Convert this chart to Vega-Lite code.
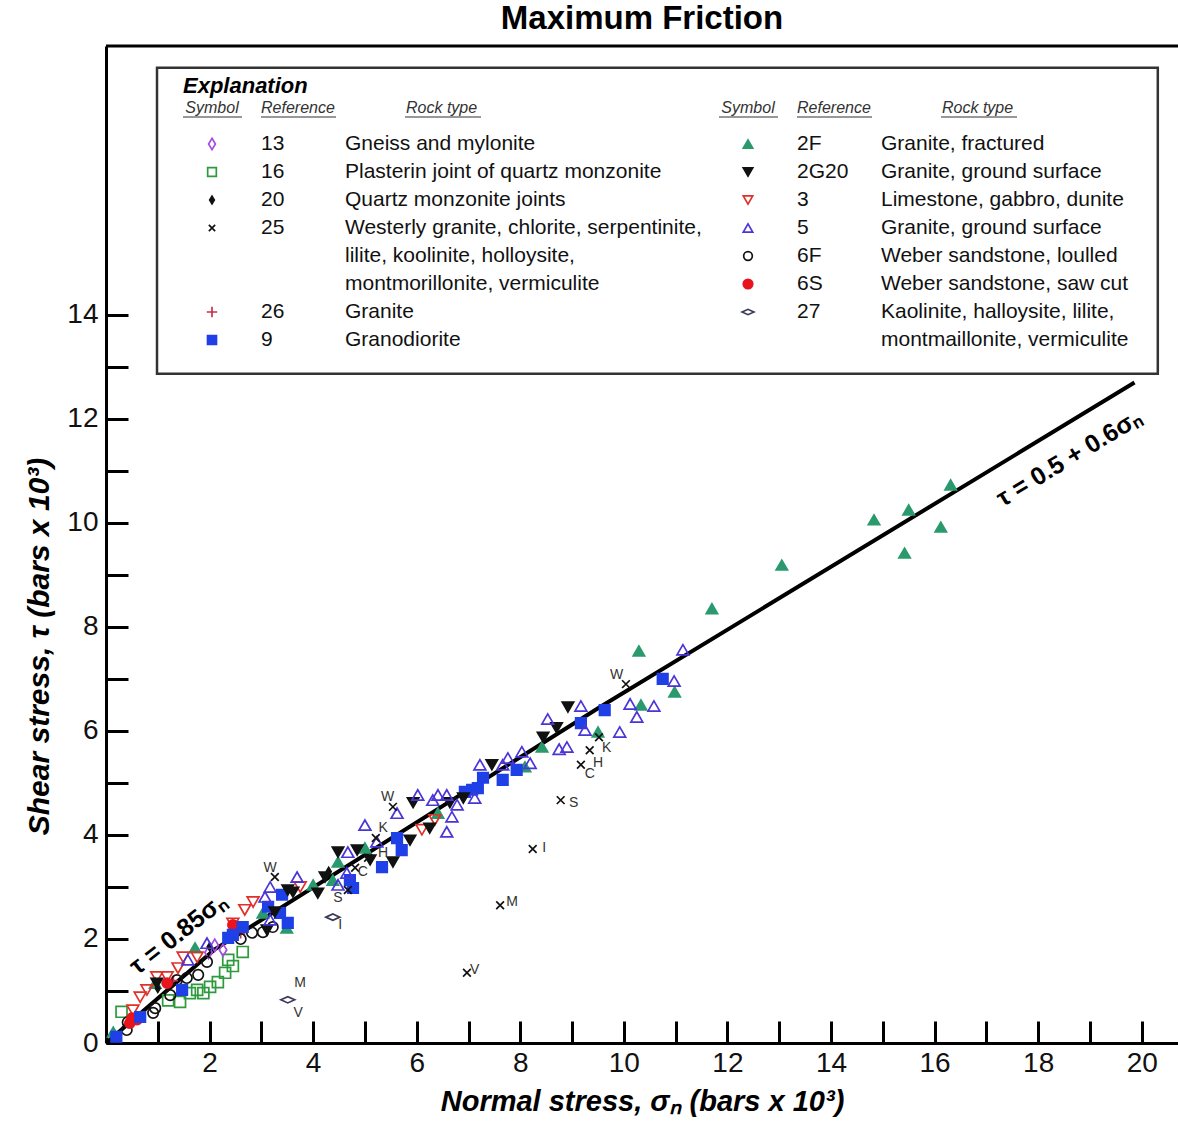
{
  "$schema": "https://vega.github.io/schema/vega-lite/v6.json",
  "width": 1072,
  "height": 997,
  "autosize": "none",
  "padding": {"left": 106, "top": 46, "right": 0, "bottom": 83},
  "background": "white",
  "config": {"view": {"stroke": null}, "font": "Liberation Sans"},
  "title": {"text": "Maximum Friction", "fontSize": 33, "fontWeight": "bold", "anchor": "middle", "offset": 9, "color": "black"},
  "datasets": {
    "pts": [
      {"s":16.31,"t":10.73,"ref":"2F"},{"s":15.5,"t":10.25,"ref":"2F"},{"s":14.83,"t":10.06,"ref":"2F"},{"s":16.12,"t":9.92,"ref":"2F"},{"s":15.42,"t":9.42,"ref":"2F"},{"s":13.05,"t":9.19,"ref":"2F"},{"s":11.7,"t":8.35,"ref":"2F"},{"s":10.29,"t":7.54,"ref":"2F"},{"s":10.98,"t":6.75,"ref":"2F"},{"s":10.33,"t":6.5,"ref":"2F"},{"s":9.5,"t":5.98,"ref":"2F"},{"s":8.42,"t":5.69,"ref":"2F"},{"s":8.09,"t":5.31,"ref":"2F"},{"s":6.41,"t":4.42,"ref":"2F"},{"s":5.0,"t":3.75,"ref":"2F"},{"s":4.48,"t":3.48,"ref":"2F"},{"s":4.0,"t":3.04,"ref":"2F"},{"s":4.38,"t":3.13,"ref":"2F"},{"s":3.03,"t":2.5,"ref":"2F"},{"s":3.49,"t":2.21,"ref":"2F"},{"s":1.72,"t":1.83,"ref":"2F"},{"s":0.95,"t":1.15,"ref":"2F"},{"s":0.14,"t":0.21,"ref":"2F"},
      {"s":2.64,"t":1.75,"ref":"16"},{"s":2.36,"t":1.6,"ref":"16"},{"s":2.3,"t":1.35,"ref":"16"},{"s":2.16,"t":1.17,"ref":"16"},{"s":2.01,"t":1.08,"ref":"16"},{"s":1.76,"t":1.02,"ref":"16"},{"s":1.88,"t":0.96,"ref":"16"},{"s":1.62,"t":0.96,"ref":"16"},{"s":1.43,"t":0.79,"ref":"16"},{"s":1.2,"t":0.82,"ref":"16"},{"s":0.3,"t":0.6,"ref":"16"},{"s":2.45,"t":1.48,"ref":"16"},
      {"s":2.1,"t":1.88,"ref":"13"},{"s":2.26,"t":1.79,"ref":"13"},{"s":1.98,"t":1.74,"ref":"13"},
      {"s":1.0,"t":1.05,"ref":"20"},{"s":2.0,"t":1.85,"ref":"20"},{"s":4.3,"t":3.3,"ref":"20"},
      {"s":1.3,"t":1.2,"ref":"26"},{"s":2.6,"t":2.1,"ref":"26"},
      {"s":3.22,"t":2.23,"ref":"6F"},{"s":3.03,"t":2.13,"ref":"6F"},{"s":2.82,"t":2.12,"ref":"6F"},{"s":2.6,"t":2.0,"ref":"6F"},{"s":1.95,"t":1.56,"ref":"6F"},{"s":1.78,"t":1.31,"ref":"6F"},{"s":1.56,"t":1.25,"ref":"6F"},{"s":1.37,"t":1.21,"ref":"6F"},{"s":1.24,"t":0.92,"ref":"6F"},{"s":0.95,"t":0.67,"ref":"6F"},{"s":0.91,"t":0.58,"ref":"6F"},{"s":0.42,"t":0.4,"ref":"6F"},{"s":0.4,"t":0.25,"ref":"6F"},
      {"s":6.1,"t":4.1,"ref":"3"},{"s":6.35,"t":4.29,"ref":"3"},{"s":3.75,"t":3.0,"ref":"3"},{"s":2.84,"t":2.71,"ref":"3"},{"s":2.68,"t":2.56,"ref":"3"},{"s":2.45,"t":2.3,"ref":"3"},{"s":1.76,"t":1.65,"ref":"3"},{"s":1.49,"t":1.65,"ref":"3"},{"s":1.18,"t":1.27,"ref":"3"},{"s":0.98,"t":1.27,"ref":"3"},{"s":0.79,"t":1.02,"ref":"3"},{"s":0.66,"t":0.88,"ref":"3"},{"s":0.52,"t":0.63,"ref":"3"},{"s":1.39,"t":1.44,"ref":"3"},
      {"s":2.45,"t":2.27,"ref":"6S"},{"s":1.18,"t":1.15,"ref":"6S"},{"s":0.5,"t":0.48,"ref":"6S"},{"s":0.46,"t":0.38,"ref":"6S"},{"s":0.6,"t":0.45,"ref":"6S"},
      {"s":10.75,"t":7.0,"ref":"9"},{"s":9.63,"t":6.4,"ref":"9"},{"s":9.17,"t":6.15,"ref":"9"},{"s":7.93,"t":5.25,"ref":"9"},{"s":7.66,"t":5.06,"ref":"9"},{"s":7.28,"t":5.1,"ref":"9"},{"s":7.18,"t":4.9,"ref":"9"},{"s":7.07,"t":4.87,"ref":"9"},{"s":6.93,"t":4.83,"ref":"9"},{"s":5.62,"t":3.94,"ref":"9"},{"s":5.71,"t":3.71,"ref":"9"},{"s":5.33,"t":3.38,"ref":"9"},{"s":4.71,"t":3.13,"ref":"9"},{"s":4.77,"t":2.98,"ref":"9"},{"s":3.4,"t":2.85,"ref":"9"},{"s":3.51,"t":2.31,"ref":"9"},{"s":3.36,"t":2.5,"ref":"9"},{"s":3.13,"t":2.62,"ref":"9"},{"s":2.64,"t":2.23,"ref":"9"},{"s":2.36,"t":2.02,"ref":"9"},{"s":2.45,"t":2.08,"ref":"9"},{"s":1.47,"t":1.02,"ref":"9"},{"s":0.66,"t":0.5,"ref":"9"},{"s":0.2,"t":0.12,"ref":"9"},
      {"s":8.92,"t":6.46,"ref":"2G20"},{"s":8.7,"t":6.06,"ref":"2G20"},{"s":8.44,"t":5.88,"ref":"2G20"},{"s":7.45,"t":5.35,"ref":"2G20"},{"s":6.9,"t":4.71,"ref":"2G20"},{"s":6.64,"t":4.62,"ref":"2G20"},{"s":5.93,"t":4.62,"ref":"2G20"},{"s":6.25,"t":4.13,"ref":"2G20"},{"s":5.87,"t":3.9,"ref":"2G20"},{"s":5.54,"t":3.48,"ref":"2G20"},{"s":5.1,"t":3.52,"ref":"2G20"},{"s":4.85,"t":3.71,"ref":"2G20"},{"s":4.48,"t":3.67,"ref":"2G20"},{"s":4.23,"t":3.19,"ref":"2G20"},{"s":4.09,"t":2.88,"ref":"2G20"},{"s":3.51,"t":2.94,"ref":"2G20"},{"s":3.61,"t":2.9,"ref":"2G20"},{"s":3.26,"t":2.52,"ref":"2G20"},{"s":3.11,"t":2.17,"ref":"2G20"},{"s":0.98,"t":1.15,"ref":"2G20"},
      {"s":11.14,"t":7.56,"ref":"5"},{"s":10.97,"t":6.96,"ref":"5"},{"s":10.58,"t":6.48,"ref":"5"},{"s":10.12,"t":6.52,"ref":"5"},{"s":10.25,"t":6.27,"ref":"5"},{"s":9.92,"t":5.98,"ref":"5"},{"s":9.17,"t":6.48,"ref":"5"},{"s":9.25,"t":6.02,"ref":"5"},{"s":8.53,"t":6.23,"ref":"5"},{"s":8.9,"t":5.69,"ref":"5"},{"s":8.75,"t":5.65,"ref":"5"},{"s":8.03,"t":5.6,"ref":"5"},{"s":7.76,"t":5.48,"ref":"5"},{"s":8.19,"t":5.38,"ref":"5"},{"s":7.66,"t":5.35,"ref":"5"},{"s":7.22,"t":5.35,"ref":"5"},{"s":7.12,"t":4.71,"ref":"5"},{"s":6.78,"t":4.58,"ref":"5"},{"s":6.68,"t":4.35,"ref":"5"},{"s":6.58,"t":4.06,"ref":"5"},{"s":6.58,"t":4.77,"ref":"5"},{"s":6.41,"t":4.77,"ref":"5"},{"s":6.31,"t":4.67,"ref":"5"},{"s":6.02,"t":4.77,"ref":"5"},{"s":5.62,"t":4.42,"ref":"5"},{"s":5.23,"t":3.87,"ref":"5"},{"s":5.0,"t":4.19,"ref":"5"},{"s":4.67,"t":3.67,"ref":"5"},{"s":4.65,"t":3.27,"ref":"5"},{"s":4.48,"t":3.04,"ref":"5"},{"s":3.69,"t":3.19,"ref":"5"},{"s":3.17,"t":3.0,"ref":"5"},{"s":3.07,"t":2.81,"ref":"5"},{"s":3.17,"t":2.37,"ref":"5"},{"s":1.95,"t":1.92,"ref":"5"},{"s":1.58,"t":1.6,"ref":"5"},
      {"s":10.04,"t":6.9,"ref":"25"},{"s":9.52,"t":5.88,"ref":"25"},{"s":9.34,"t":5.63,"ref":"25"},{"s":9.17,"t":5.35,"ref":"25"},{"s":8.78,"t":4.67,"ref":"25"},{"s":8.24,"t":3.73,"ref":"25"},{"s":7.61,"t":2.65,"ref":"25"},{"s":6.97,"t":1.35,"ref":"25"},{"s":5.54,"t":4.54,"ref":"25"},{"s":5.21,"t":3.94,"ref":"25"},{"s":5.06,"t":3.56,"ref":"25"},{"s":4.81,"t":3.37,"ref":"25"},{"s":4.67,"t":2.94,"ref":"25"},{"s":3.26,"t":3.19,"ref":"25"},
      {"s":3.51,"t":0.83,"ref":"27"},{"s":4.38,"t":2.42,"ref":"27"}
    ],
    "lbl": [
      {"s":9.86,"t":7.08,"txt":"W"},{"s":9.67,"t":5.67,"txt":"K"},{"s":9.5,"t":5.38,"txt":"H"},{"s":9.34,"t":5.17,"txt":"C"},{"s":9.03,"t":4.62,"txt":"S"},{"s":8.46,"t":3.75,"txt":"I"},{"s":7.84,"t":2.71,"txt":"M"},{"s":7.12,"t":1.4,"txt":"V"},
      {"s":5.44,"t":4.73,"txt":"W"},{"s":5.35,"t":4.13,"txt":"K"},{"s":5.35,"t":3.65,"txt":"H"},{"s":4.96,"t":3.29,"txt":"C"},{"s":4.48,"t":2.79,"txt":"S"},{"s":3.17,"t":3.37,"txt":"W"},{"s":4.52,"t":2.27,"txt":"I"},{"s":3.75,"t":1.15,"txt":"M"},{"s":3.71,"t":0.58,"txt":"V"}
    ],
    "line": [
      {"s":0.0,"t":0.0},{"s":2.1,"t":1.8},{"s":9.54,"t":6.46},{"s":19.86,"t":12.7}
    ],
    "leg": [
      {"col":1,"row":1,"ref":"13","rock":"Gneiss and mylonite"},
      {"col":1,"row":2,"ref":"16","rock":"Plasterin joint of quartz monzonite"},
      {"col":1,"row":3,"ref":"20","rock":"Quartz monzonite joints"},
      {"col":1,"row":4,"ref":"25","rock":"Westerly granite, chlorite, serpentinite,"},
      {"col":1,"row":5,"ref":null,"rock":"lilite, koolinite, holloysite,"},
      {"col":1,"row":6,"ref":null,"rock":"montmorillonite, vermiculite"},
      {"col":1,"row":7,"ref":"26","rock":"Granite"},
      {"col":1,"row":8,"ref":"9","rock":"Granodiorite"},
      {"col":2,"row":1,"ref":"2F","rock":"Granite, fractured"},
      {"col":2,"row":2,"ref":"2G20","rock":"Granite, ground surface"},
      {"col":2,"row":3,"ref":"3","rock":"Limestone, gabbro, dunite"},
      {"col":2,"row":4,"ref":"5","rock":"Granite, ground surface"},
      {"col":2,"row":5,"ref":"6F","rock":"Weber sandstone, loulled"},
      {"col":2,"row":6,"ref":"6S","rock":"Weber sandstone, saw cut"},
      {"col":2,"row":7,"ref":"27","rock":"Kaolinite, halloysite, lilite,"},
      {"col":2,"row":8,"ref":null,"rock":"montmaillonite, vermiculite"}
    ],
    "hdr": [{"col":1},{"col":2}]
  },
  "layer": [
    {
      "layer": [
        {
          "data": {"values": [{}]},
          "mark": {"type": "rect", "fill": "white", "stroke": "#333333", "strokeWidth": 2.5},
          "encoding": {"x": {"datum": 0.985}, "x2": {"datum": 20.31}, "y": {"datum": 18.75}, "y2": {"datum": 12.87}}
        },
        {
          "data": {"values": [{}]},
          "mark": {"type": "rule", "strokeWidth": 3, "color": "black"},
          "encoding": {"y": {"datum": 19.17}}
        },
        {
          "data": {"name": "line"},
          "mark": {"type": "line", "color": "black", "strokeWidth": 4},
          "encoding": {"x": {"field": "s", "type": "quantitative"}, "y": {"field": "t", "type": "quantitative"}}
        },
        {
          "data": {"name": "pts"},
          "mark": {"type": "point", "opacity": 1, "strokeWidth": 1.7},
          "encoding": {
            "x": {
              "field": "s", "type": "quantitative",
              "scale": {"domain": [0, 20.7], "nice": false, "zero": false},
              "axis": {
                "values": [1,2,3,4,5,6,7,8,9,10,11,12,13,14,15,16,17,18,19,20],
                "labelExpr": "datum.value % 2 == 0 ? datum.label : ''",
                "grid": false, "tickSize": -22, "tickWidth": 3, "tickColor": "black",
                "domainWidth": 3, "domainColor": "black",
                "labelFontSize": 28, "labelColor": "#111", "labelPadding": 28, "labelFlush": false,
                "title": "Normal stress, σₙ (bars x 10³)", "titleFontSize": 29, "titleFontWeight": "bold", "titleFontStyle": "italic", "titleColor": "black", "titlePadding": 10
              }
            },
            "y": {
              "field": "t", "type": "quantitative",
              "scale": {"domain": [0, 19.17], "nice": false, "zero": false},
              "axis": {
                "values": [0,1,2,3,4,5,6,7,8,9,10,11,12,13,14],
                "labelExpr": "datum.value % 2 == 0 ? datum.label : ''",
                "grid": false, "tickSize": -22, "tickWidth": 3, "tickColor": "black",
                "domainWidth": 3, "domainColor": "black",
                "labelFontSize": 28, "labelColor": "#111", "labelPadding": 30, "labelFlush": false,
                "title": "Shear stress, τ (bars x 10³)", "titleFontSize": 30, "titleFontWeight": "bold", "titleFontStyle": "italic", "titleColor": "black", "titlePadding": 12, "titleY": 600
              }
            },
            "shape": {"field": "ref", "type": "nominal", "legend": null, "scale": {
              "domain": ["13","16","20","25","26","9","2F","2G20","3","5","6F","6S","27"],
              "range": ["M0,-1L0.6,0L0,1L-0.6,0Z","square","M0,-1L0.6,0L0,1L-0.6,0Z","M-1,-1L1,1M-1,1L1,-1","M-1,0L1,0M0,-1L0,1","square","triangle-up","triangle-down","triangle-down","triangle-up","circle","circle","M-1,0L0,-0.45L1,0L0,0.45Z"]}},
            "fill": {"field": "ref", "type": "nominal", "legend": null, "scale": {
              "domain": ["13","16","20","25","26","9","2F","2G20","3","5","6F","6S","27"],
              "range": ["transparent","transparent","#111111","transparent","transparent","#1f40e6","#2a9a6e","#111111","transparent","transparent","transparent","#e8141e","transparent"]}},
            "stroke": {"field": "ref", "type": "nominal", "legend": null, "scale": {
              "domain": ["13","16","20","25","26","9","2F","2G20","3","5","6F","6S","27"],
              "range": ["#a64ce0","#2e9a3e","#111111","#111111","#c8324a","#1f40e6","#2a9a6e","#111111","#e0302a","#4a35d8","#111111","#e8141e","#3a3a5a"]}},
            "size": {"field": "ref", "type": "nominal", "legend": null, "scale": {"type": "ordinal",
              "domain": ["13","16","20","25","26","9","2F","2G20","3","5","6F","6S","27"],
              "range": [150,120,60,60,90,110,130,130,140,140,110,100,190]}}
          }
        },
        {
          "data": {"name": "lbl"},
          "mark": {"type": "text", "fontSize": 14, "color": "#333333", "align": "center", "baseline": "middle"},
          "encoding": {"x": {"field": "s", "type": "quantitative"}, "y": {"field": "t", "type": "quantitative"}, "text": {"field": "txt"}}
        },
        {
          "data": {"values": [{}]},
          "mark": {"type": "text", "text": "τ = 0.85σₙ", "fontSize": 25, "fontWeight": "bold", "angle": -38, "align": "center", "baseline": "middle", "color": "black"},
          "encoding": {"x": {"datum": 1.39}, "y": {"datum": 2.1}}
        },
        {
          "data": {"values": [{}]},
          "mark": {"type": "text", "text": "τ = 0.5 + 0.6σₙ", "fontSize": 25, "fontWeight": "bold", "angle": -31, "align": "center", "baseline": "middle", "color": "black"},
          "encoding": {"x": {"datum": 18.6}, "y": {"datum": 11.25}}
        }
      ]
    },
    {
      "layer": [
        {
          "data": {"name": "leg"},
          "transform": [{"filter": "datum.ref != null"}],
          "mark": {"type": "point", "opacity": 1, "strokeWidth": 1.7},
          "encoding": {
            "x": {"field": "col", "type": "quantitative", "scale": {"domain": [1, 2], "range": [106, 642]}, "axis": null},
            "y": {"field": "row", "type": "quantitative", "scale": {"domain": [1, 8], "range": [98, 294]}, "axis": null},
            "shape": {"field": "ref", "type": "nominal", "legend": null},
            "fill": {"field": "ref", "type": "nominal", "legend": null},
            "stroke": {"field": "ref", "type": "nominal", "legend": null},
            "size": {"field": "ref", "type": "nominal", "legend": null, "scale": {"type": "ordinal",
              "domain": ["13","16","20","25","26","9","2F","2G20","3","5","6F","6S","27"],
              "range": [130,75,60,40,110,80,90,90,90,90,75,90,140]}}
          }
        },
        {
          "data": {"name": "leg"},
          "transform": [{"filter": "datum.ref != null"}],
          "mark": {"type": "text", "fontSize": 21, "align": "left", "baseline": "middle", "dx": 49, "color": "#111111"},
          "encoding": {"x": {"field": "col", "type": "quantitative"}, "y": {"field": "row", "type": "quantitative"}, "text": {"field": "ref"}}
        },
        {
          "data": {"name": "leg"},
          "mark": {"type": "text", "fontSize": 21, "align": "left", "baseline": "middle", "dx": 133, "color": "#111111"},
          "encoding": {"x": {"field": "col", "type": "quantitative"}, "y": {"field": "row", "type": "quantitative"}, "text": {"field": "rock"}}
        },
        {
          "data": {"name": "hdr"},
          "mark": {"type": "text", "text": "Symbol", "fontSize": 16, "fontStyle": "italic", "align": "center", "baseline": "middle", "dy": -8, "color": "#333333"},
          "encoding": {"x": {"field": "col", "type": "quantitative"}, "y": {"datum": 0}}
        },
        {
          "data": {"name": "hdr"},
          "mark": {"type": "text", "text": "Reference", "fontSize": 16, "fontStyle": "italic", "align": "left", "baseline": "middle", "dx": 49, "dy": -8, "color": "#333333"},
          "encoding": {"x": {"field": "col", "type": "quantitative"}, "y": {"datum": 0}}
        },
        {
          "data": {"name": "hdr"},
          "mark": {"type": "text", "text": "Rock type", "fontSize": 16, "fontStyle": "italic", "align": "left", "baseline": "middle", "dx": 194, "dy": -8, "color": "#333333"},
          "encoding": {"x": {"field": "col", "type": "quantitative"}, "y": {"datum": 0}}
        },
        {
          "data": {"name": "hdr"},
          "mark": {"type": "rule", "color": "#333333", "strokeWidth": 1.2, "xOffset": -29, "x2Offset": 30, "yOffset": 1},
          "encoding": {"x": {"field": "col", "type": "quantitative"}, "x2": {"field": "col"}, "y": {"datum": 0}}
        },
        {
          "data": {"name": "hdr"},
          "mark": {"type": "rule", "color": "#333333", "strokeWidth": 1.2, "xOffset": 49, "x2Offset": 124, "yOffset": 1},
          "encoding": {"x": {"field": "col", "type": "quantitative"}, "x2": {"field": "col"}, "y": {"datum": 0}}
        },
        {
          "data": {"name": "hdr"},
          "mark": {"type": "rule", "color": "#333333", "strokeWidth": 1.2, "xOffset": 193, "x2Offset": 269, "yOffset": 1},
          "encoding": {"x": {"field": "col", "type": "quantitative"}, "x2": {"field": "col"}, "y": {"datum": 0}}
        },
        {
          "data": {"values": [{"col": 1}]},
          "mark": {"type": "text", "text": "Explanation", "fontSize": 22, "fontWeight": "bold", "fontStyle": "italic", "align": "left", "baseline": "middle", "dx": -29, "dy": -30, "color": "black"},
          "encoding": {"x": {"field": "col", "type": "quantitative"}, "y": {"datum": 0}}
        }
      ]
    }
  ],
  "resolve": {"scale": {"x": "independent", "y": "independent", "size": "independent"}}
}
